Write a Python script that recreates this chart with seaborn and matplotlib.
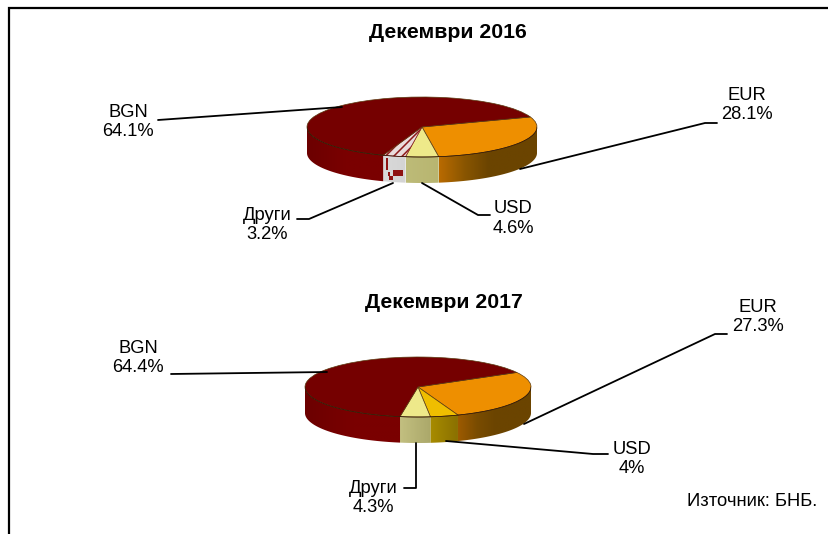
import numpy as np
import matplotlib
matplotlib.use("Agg")
import matplotlib.pyplot as plt
from matplotlib.patches import Rectangle, Polygon
import seaborn as sns

categories = ["EUR", "USD", "Други", "BGN"]
values_2016 = [28.1, 4.6, 3.2, 64.1]
values_2017 = [27.3, 4.0, 4.3, 64.4]
value_labels_2016 = ["28.1%", "4.6%", "3.2%", "64.1%"]
value_labels_2017 = ["27.3%", "4%", "4.3%", "64.4%"]
titles = ["Декември 2016", "Декември 2017"]
source = "Източник: БНБ."

sns.set_theme(style="white")
plt.rcParams["font.family"] = ["Liberation Sans", "DejaVu Sans"]
plt.rcParams["hatch.linewidth"] = 1.1

W, H = 829, 534
fig = plt.figure(figsize=(W / 100, H / 100), dpi=100)

top_2016 = ["#EE8F00", "#EEE98A", "#E9DCDC", "#750000"]
wall_2016 = [("#B86A00", "#8A5600", "#6B4400", "#6B4400", "#6B4400"), ("#BDBB78", "#B8B570"),
             ("#D9D9D9", "#D4D4D4"), ("#6C0000", "#7A0000", "#7A0000")]
top_2017 = ["#EE8F00", "#EFBE00", "#EEE98A", "#750000"]
wall_2017 = [("#9C5A00", "#7A4C00", "#6B4400", "#6B4400", "#6B4400"), ("#A88C00", "#8A7000"),
             ("#C2BF80", "#ABA86A"), ("#6C0000", "#7A0000", "#7A0000")]


def pie3d(values, start, cx, cy, rx, ry, depth, tops, walls):
    d = depth / ry
    ax = fig.add_axes([(cx - rx) / W, 1 - (cy + ry + depth) / H,
                       2 * rx / W, (2 * ry + depth) / H])
    wedges, _ = ax.pie(values, startangle=start, counterclock=False, colors=tops,
                       radius=1, center=(0, 0),
                       wedgeprops=dict(linewidth=0.5, edgecolor="#5a3a10"))
    bounds = start - np.concatenate([[0], np.cumsum(values)]) * 3.6
    for i, wall in enumerate(walls):
        hi, lo = bounds[i], bounds[i + 1]
        lo_front, hi_front = max(lo, -180), min(hi, 0)
        if hi_front <= lo_front:
            continue
        th = np.radians(np.linspace(lo_front, hi_front, 80))
        x, y = np.cos(th), np.sin(th)
        poly = Polygon(np.column_stack([np.r_[x, x[::-1]], np.r_[y, (y - d)[::-1]]]),
                       closed=True, facecolor="none", edgecolor="none", zorder=1)
        ax.add_patch(poly)
        pal = np.array(sns.blend_palette(list(wall), 64))[None, :, :3]
        im = ax.imshow(pal, extent=[x.min(), x.max(), -1 - d, 1], aspect="auto",
                       interpolation="bilinear", zorder=1)
        im.set_clip_path(poly)
        ax.plot(x, y, color="#2a1000", lw=0.5, zorder=3)
    for w in wedges:
        w.set_zorder(2)
        w.set_clip_on(False)
    ax.set_aspect("auto")
    ax.set_xlim(-1, 1)
    ax.set_ylim(-1 - d, 1)
    ax.axis("off")
    return ax, wedges


ax1, w1 = pie3d(values_2016, 19.5, 422, 127, 115, 30, 26, top_2016, wall_2016)
w1[2].set_hatch("////")
w1[2].set_edgecolor("#8E1A1A")
ax2, w2 = pie3d(values_2017, 29, 418, 387, 113, 30, 26, top_2017, wall_2017)

ov = fig.add_axes([0, 0, 1, 1], zorder=5)
ov.set_xlim(0, W)
ov.set_ylim(H, 0)
ov.axis("off")
ov.patch.set_alpha(0)

# artefact blocks on the "Други" wall in the upper pie
for (bx, by, bw, bh) in [(393, 170, 10, 6), (386, 158, 2, 12), (389, 176, 4, 4),
                         (388, 172, 2, 4)]:
    ov.add_patch(Rectangle((bx, by), bw, bh, color="#8E1212", lw=0))

# frame
ov.plot([9, 9, W], [H, 7.5, 7.5], color="black", lw=1.6, solid_joinstyle="miter",
        clip_on=False)

leaders = [
    [(158, 120), (342, 107)],
    [(520, 169), (705, 123), (717, 123)],
    [(393, 183), (309, 219), (297, 219)],
    [(422, 183), (478, 215), (490, 215)],
    [(171, 374), (327, 372)],
    [(524, 424), (715, 334), (727, 334)],
    [(446, 441), (593, 454), (608, 454)],
    [(416, 443), (416, 488), (404, 488)],
]
for pts in leaders:
    xs, ys = zip(*pts)
    ov.plot(xs, ys, color="black", lw=1.3)


def label(x, y, s):
    ov.text(x, y, s, ha="center", va="center", fontsize=13.2, color="black",
            linespacing=1.2)


ov.text(448, 32, titles[0], ha="center", va="center", fontsize=15.3, fontweight="bold",
        color="black")
ov.text(444, 302, titles[1], ha="center", va="center", fontsize=15.3, fontweight="bold",
        color="black")

label(128, 122, f"{categories[3]}\n{value_labels_2016[3]}")
label(747, 105, f"{categories[0]}\n{value_labels_2016[0]}")
label(267, 225, f"{categories[2]}\n{value_labels_2016[2]}")
label(513, 218.5, f"{categories[1]}\n{value_labels_2016[1]}")
label(138, 358, f"{categories[3]}\n{value_labels_2017[3]}")
label(758, 317, f"{categories[0]}\n{value_labels_2017[0]}")
label(632, 459, f"{categories[1]}\n{value_labels_2017[1]}")
label(373.5, 498, f"{categories[2]}\n{value_labels_2017[2]}")
ov.text(752, 502, source, ha="center", va="center", fontsize=13.2, color="black")

fig.savefig("out.png", dpi=100, facecolor="white")
